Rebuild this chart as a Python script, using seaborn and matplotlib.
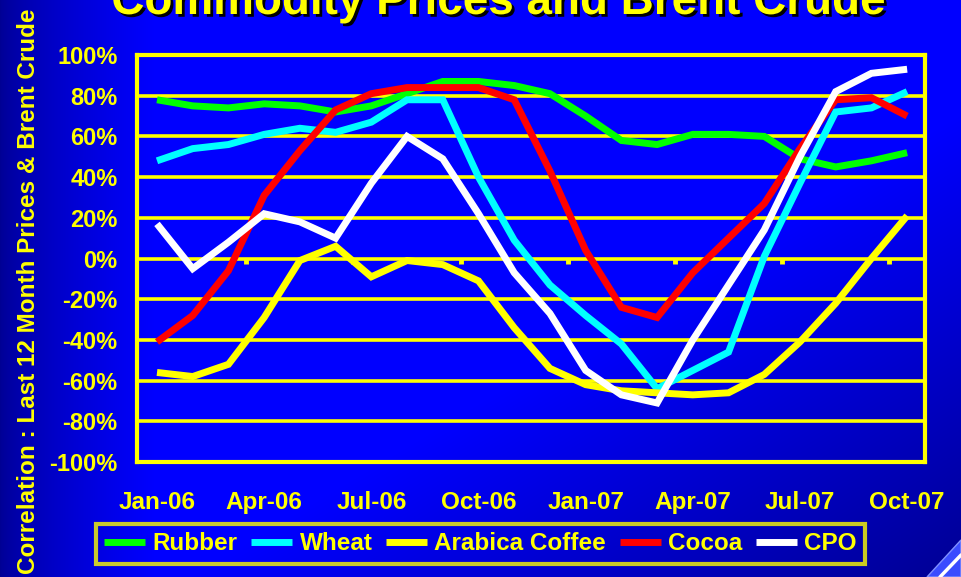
import numpy as np
import pandas as pd
import matplotlib
matplotlib.use("Agg")
import matplotlib.pyplot as plt
import matplotlib.patheffects as pe
from matplotlib.patches import Polygon
import seaborn as sns

# Monthly correlation (last 12 months) of commodity prices with Brent crude, %
months = ["Jan-06", "Feb-06", "Mar-06", "Apr-06", "May-06", "Jun-06",
          "Jul-06", "Aug-06", "Sep-06", "Oct-06", "Nov-06", "Dec-06",
          "Jan-07", "Feb-07", "Mar-07", "Apr-07", "May-07", "Jun-07",
          "Jul-07", "Aug-07", "Sep-07", "Oct-07"]
rubber = [78, 75, 74, 76, 75, 72, 75, 81, 87, 87, 85, 81,
          70, 58, 56, 61, 61, 60, 49, 45, 48, 52]
wheat = [48, 54, 56, 61, 64, 62, 67, 78, 78, 40, 9, -13,
         -28, -42, -64, -55, -46, 1, 37, 72, 74, 82]
arabica_coffee = [-56, -58, -52, -29, -1, 6, -9, -1, -3, -11, -34, -54,
                  -62, -65, -66, -67, -66, -57, -41, -22, 0, 21]
cocoa = [-41, -28, -6, 31, 53, 73, 81, 84, 84, 84, 78, 43,
         4, -24, -29, -7, 10, 27, 54, 78, 79, 70]
cpo = [17, -5, 8, 22, 18, 10, 37, 60, 49, 22, -7, -27,
       -55, -67, -71, -40, -13, 14, 50, 82, 91, 93]

series_names = ["Rubber", "Wheat", "Arabica Coffee", "Cocoa", "CPO"]
series_values = [rubber, wheat, arabica_coffee, cocoa, cpo]
series_colors = ["#00ff00", "#00ffff", "#ffff00", "#ff0000", "#ffffff"]

x_tick_labels = ["Jan-06", "Apr-06", "Jul-06", "Oct-06",
                 "Jan-07", "Apr-07", "Jul-07", "Oct-07"]
y_ticks = list(range(-100, 101, 20))

df = pd.concat(
    [pd.DataFrame({"idx": np.arange(len(months)), "month": months,
                   "value": vals, "series": name})
     for name, vals in zip(series_names, series_values)],
    ignore_index=True)

sns.set_theme(style="white")
plt.rcParams["font.family"] = ["Liberation Sans", "DejaVu Sans"]
plt.rcParams["font.weight"] = "bold"

YELLOW = "#ffff00"
W, H = 961, 577
fig = plt.figure(figsize=(W / 100, H / 100), dpi=100)

# blue slide background: darker towards the left edge and bottom-right corner
bg = fig.add_axes([0, 0, 1, 1], zorder=-10)
u, v = np.meshgrid(np.linspace(0, 1, W), np.linspace(0, 1, H))
left = 0.58 + 0.42 * np.clip(u / 0.16, 0, 1) ** 0.7
s = (u + v) / 2
corner = 1 - 0.42 * np.clip((s - 0.6) / 0.4, 0, 1)
blue = left * corner
img = np.dstack([np.zeros_like(blue), np.zeros_like(blue), blue])
bg.imshow(img, aspect="auto", extent=[0, 1, 0, 1], origin="upper")
bg.axis("off")

# small logo corner
logo = Polygon([[927 / W, 0], [1, 37 / H], [1, 0]], closed=True,
               transform=fig.transFigure, facecolor="#3a4cff",
               edgecolor="#8090ff", lw=1, zorder=-5)
fig.patches.append(logo)
fig.add_artist(plt.Line2D([940 / W, 961 / W], [0, 22 / H],
                          transform=fig.transFigure, color="white", lw=2.5))

ax = fig.add_axes([137 / W, 1 - 462 / H, (925 - 137) / W, (462 - 55) / H])
ax.set_facecolor("none")

for name, color in zip(series_names, series_colors):
    sns.lineplot(data=df[df["series"] == name], x="idx", y="value",
                 color=color, lw=5, label=name, ax=ax, errorbar=None,
                 zorder=3, solid_capstyle="butt", solid_joinstyle="miter")

ax.set_xlim(-0.56, 21.5)
ax.set_ylim(-100, 100)
ax.set_yticks(y_ticks)
ax.set_yticklabels([f"{t}%" for t in y_ticks])
ax.set_xticks(np.arange(0, len(months), 3))
ax.set_xticklabels(x_tick_labels)
ax.set_xlabel("")
ax.set_ylabel("")

ax.grid(axis="y", color=YELLOW, lw=2.6)
ax.grid(axis="x", visible=False)
ax.set_axisbelow(True)
for sp in ax.spines.values():
    sp.set_color(YELLOW)
    sp.set_linewidth(3)
    sp.set_visible(True)

ax.tick_params(axis="y", colors=YELLOW, length=4, width=3, pad=10,
               labelsize=17)
ax.tick_params(axis="x", length=0, pad=21, labelsize=17.5,
               labelcolor=YELLOW)
for lbl in ax.get_xticklabels() + ax.get_yticklabels():
    lbl.set_fontweight("bold")

# category tick marks on the zero line
ax.vlines(np.arange(2.5, len(months) - 1, 3), -2.6, 0, colors=YELLOW,
          lw=3.5, zorder=1.5)

leg = ax.legend(loc="center", bbox_to_anchor=(480.5 / W, 1 - 544 / H),
                bbox_transform=fig.transFigure, ncol=5, frameon=True,
                fancybox=False, edgecolor=YELLOW, facecolor="none",
                fontsize=17.5, handlelength=1.7, handletextpad=0.3,
                columnspacing=0.55, borderpad=0.35, borderaxespad=0,
                labelcolor=YELLOW, prop={"weight": "bold", "size": 17.5})
leg.get_frame().set_linewidth(3)
for h in leg.get_lines():
    h.set_linewidth(5)

fig.text(29 / W, 0.496, "Correlation : Last 12 Month Prices & Brent Crude",
         rotation=90, ha="center", va="center", fontsize=17.5,
         fontweight="bold", color=YELLOW)

fig.text(0.519, 1 - 14 / H, "Commodity Prices and Brent Crude",
         ha="center", va="baseline", fontsize=33, fontweight="bold",
         color=YELLOW,
         path_effects=[pe.withSimplePatchShadow(offset=(2, -2),
                                                shadow_rgbFace="black",
                                                alpha=1)])

fig.savefig("out.png", dpi=100)
